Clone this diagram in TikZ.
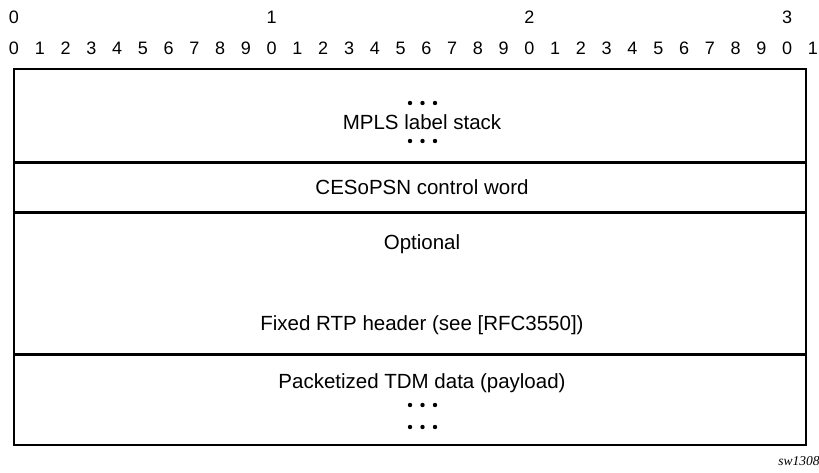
\documentclass[tikz,border=0pt]{standalone}
\usepackage{fontspec}
\setmainfont{Liberation Sans}
\newfontfamily\tagfont{Liberation Serif}
\usepackage{tikz}
\usetikzlibrary{positioning,calc}

\begin{document}
\begin{tikzpicture}[x=1pt,y=-1pt,bit/.style={inner sep=0pt,font=\fontsize{18}{18}\selectfont},field/.style={inner sep=0pt,font=\fontsize{20.5}{20.5}\selectfont},dot/.style={circle,fill=black,inner sep=0pt,minimum size=4.4pt},rule/.style={line width=2.2pt,draw=black}]
\useasboundingbox (0,0) rectangle (819,472);
% bit ruler
\foreach \i in {0,...,31}
{
\pgfmathtruncatemacro{\u}{mod(\i,10)}
\node(b\i)[bit] at ({14+25.77*\i},48) {\u};
}
\node(t0)[bit] at (14,17) {0};
\node(t1)[bit] at ({14+25.77*10},17) {1};
\node(t2)[bit] at ({14+25.77*20},17) {2};
\node(t3)[bit] at ({14+25.77*30},17) {3};
% fields
\coordinate (nw) at (14,69);
\coordinate (se) at (806,445);
\draw[rule] (nw) rectangle (se);
\draw[rule] (14,162.5) -- (806,162.5);
\draw[rule] (14,212.5) -- (806,212.5);
\draw[rule] (14,354.5) -- (806,354.5);
\node(mpls)[field] at (422,122) {MPLS label stack};
\node(cw)[field] at (422,187) {CESoPSN control word};
\node(opt)[field] at (422,244) {Optional};
\node(rtp)[field] at (422,325) {Fixed RTP header (see [RFC3550])};
\node(tdm)[field] at (422,383) {Packetized TDM data (payload)};
% ellipsis dots
\foreach \r/\y in {mu/103,md/141,ta/405,tb/427}
\foreach \k in {0,1,2}
\node(\r\k)[dot] at ({410+12.5*\k},\y) {};
\node(tag)[inner sep=0pt,font=\tagfont\itshape\fontsize{13.5}{13.5}\selectfont] at (799,461) {sw1308};
\end{tikzpicture}
\end{document}
